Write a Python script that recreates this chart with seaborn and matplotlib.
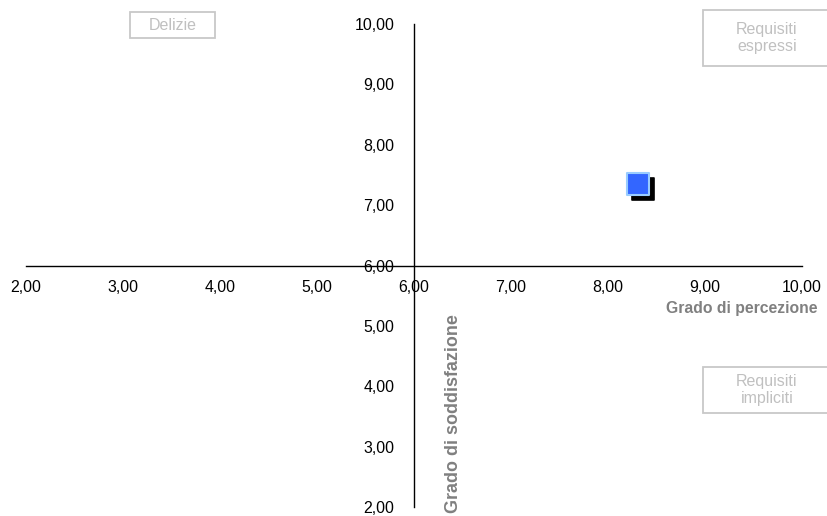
import matplotlib
matplotlib.use("Agg")
import matplotlib.pyplot as plt
import matplotlib.transforms as mtransforms
import seaborn as sns
import pandas as pd

# Data
percezione = [8.31]
soddisfazione = [7.35]
x_ticks = [2, 3, 4, 5, 6, 7, 8, 9, 10]
y_ticks = [2, 3, 4, 5, 6, 7, 8, 9, 10]
x_label = "Grado di percezione"
y_label = "Grado di soddisfazione"
quadrant_labels = ["Delizie", "Requisiti\nespressi", "Requisiti\nimpliciti"]

sns.set_style("white")
plt.rcParams["font.family"] = ["Liberation Sans", "DejaVu Sans"]

df = pd.DataFrame({"x": percezione, "y": soddisfazione})

fig = plt.figure(figsize=(8.28, 5.16), dpi=100)
ax = fig.add_axes([26 / 828, 1 - 507 / 516, (802 - 26) / 828, (507 - 24) / 516])

# shadow, offset a few pixels down-right
sns.scatterplot(data=df, x="x", y="y", ax=ax, marker="s", s=230, color="black",
                edgecolor="black", linewidth=1.2, zorder=3, legend=False)
shadow = ax.collections[-1]
shadow.set_offset_transform(ax.transData + mtransforms.ScaledTranslation(
    5 / 100, -5 / 100, fig.dpi_scale_trans))
sns.scatterplot(data=df, x="x", y="y", ax=ax, marker="s", s=230, color="#3366ff",
                edgecolor="#99ccff", linewidth=1.5, zorder=4, legend=False)

ax.set_xlim(2, 10)
ax.set_ylim(2, 10)
ax.set_xticks(x_ticks)
ax.set_yticks(y_ticks)
ax.set_xticklabels([f"{v:.2f}".replace(".", ",") for v in x_ticks])
ax.set_yticklabels([f"{v:.2f}".replace(".", ",") for v in y_ticks])

for side in ["top", "right"]:
    ax.spines[side].set_visible(False)
ax.spines["left"].set_position(("data", 6))
ax.spines["bottom"].set_position(("data", 6))
for side in ["left", "bottom"]:
    ax.spines[side].set_color("black")
    ax.spines[side].set_linewidth(1.0)

ax.tick_params(axis="both", which="major", direction="out", length=4, width=1,
               color="#bbbbbb", labelsize=11.4, labelcolor="black")
ax.tick_params(axis="x", pad=6.5)
ax.tick_params(axis="y", pad=10)
ax.set_xlabel("")
ax.set_ylabel("")

grey = "#808080"
fig.text(742 / 828, 1 - 308 / 516, x_label, ha="center", va="center",
         fontsize=11.3, fontweight="bold", color=grey)
fig.text(454 / 828, 1 - 413.5 / 516, y_label, ha="center", va="center",
         rotation=90, fontsize=12.9, fontweight="bold", color=grey)

# quadrant boxes (left, top, right, bottom in pixels)
boxes = [(130, 12, 215, 38), (703, 10, 840, 66), (703, 367, 840, 413)]
text_x = [172.5, 767, 767]
for label, (x0, y0, x1, y1), tx in zip(quadrant_labels, boxes, text_x):
    rect = plt.Rectangle((x0 / 828, 1 - y1 / 516), (x1 - x0) / 828, (y1 - y0) / 516,
                         transform=fig.transFigure, facecolor="white",
                         edgecolor="#c8c8c8", linewidth=1.3)
    fig.add_artist(rect)
    fig.text(tx / 828, 1 - (y0 + y1) / 2 / 516, label, ha="center", va="center",
             fontsize=11.5, color="#c0c0c0", linespacing=1.2)

fig.savefig("out.png", dpi=100)
